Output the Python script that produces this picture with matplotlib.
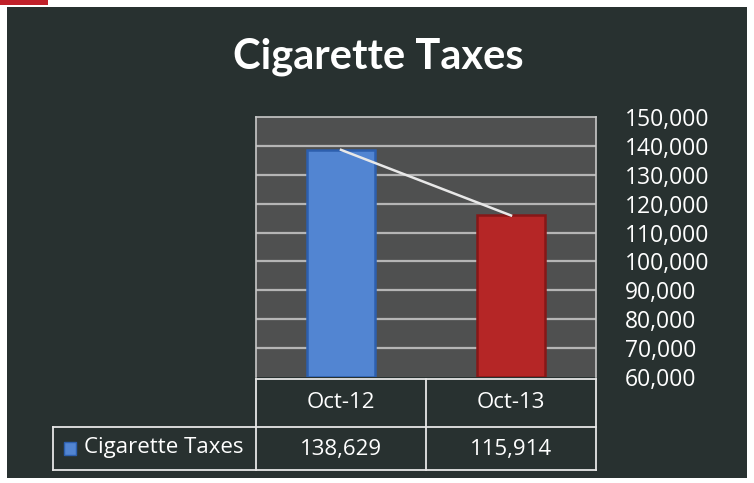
import numpy as np
import matplotlib
matplotlib.use("Agg")
import matplotlib.pyplot as plt
from matplotlib.patches import Rectangle
from matplotlib.lines import Line2D

title = "Cigarette Taxes"
series_name = "Cigarette Taxes"
months = ["Oct-12", "Oct-13"]
taxes = [138629, 115914]
bar_colors = ["#5285d2", "#b52626"]
edge_colors = ["#2d5fae", "#861717"]
y_ticks = [60000, 70000, 80000, 90000, 100000, 110000, 120000, 130000, 140000, 150000]

W, H = 754, 483
fig = plt.figure(figsize=(W / 100, H / 100), dpi=100)
fig.patch.set_facecolor("white")

def fx(px):
    return px / W

def fy(py):
    return 1 - py / H

# dark slide background + small red mark at top-left
fig.add_artist(Rectangle((fx(7), fy(478)), fx(740), (471) / H, transform=fig.transFigure,
                         facecolor="#283130", edgecolor="none", zorder=0))
fig.add_artist(Rectangle((0, fy(5)), fx(48), 5 / H, transform=fig.transFigure,
                         facecolor="#c0202a", edgecolor="none", zorder=0))

fig.text(fx(378), fy(57), title, ha="center", va="center", color="white",
         fontsize=30, fontweight="bold", family="Lato")

# plot area
ax = fig.add_axes([fx(256), fy(377), fx(596 - 256), (377 - 117) / H])
ax.set_facecolor("#4f5050")
ax.set_xlim(0, len(months))
ax.set_ylim(y_ticks[0], y_ticks[-1])
ax.set_yticks(y_ticks)
ax.set_yticklabels([f"{t:,}" for t in y_ticks])
ax.yaxis.tick_right()
ax.tick_params(axis="y", length=0, pad=21, labelsize=16.5, labelcolor="white")
for lab in ax.get_yticklabels():
    lab.set_family("Open Sans")
    lab.set_horizontalalignment("left")
ax.set_xticks([])
for t in y_ticks[1:-1]:
    ax.axhline(t, color="#b5b5b5", lw=1.6, zorder=1)
for side in ["top", "left", "right"]:
    ax.spines[side].set_color("#c8c8c8")
    ax.spines[side].set_linewidth(1.2)
ax.spines["bottom"].set_visible(False)

x = np.arange(len(months)) + 0.5
ax.bar(x, np.array(taxes) - y_ticks[0], bottom=y_ticks[0], width=0.4,
       color=bar_colors, edgecolor=edge_colors, linewidth=1.8, zorder=2)
ax.plot(x, taxes, color="#e8e8e8", lw=1.8, zorder=3)

# data table
lc = "#e6e6e6"
lw = 1.3
def hline(y, x0, x1):
    fig.add_artist(Line2D([fx(x0), fx(x1)], [fy(y), fy(y)], color=lc, lw=lw, transform=fig.transFigure))

def vline(xp, y0, y1):
    fig.add_artist(Line2D([fx(xp), fx(xp)], [fy(y0), fy(y1)], color=lc, lw=lw, transform=fig.transFigure))

cols = [256, 426, 596]
hline(379, 256, 596)
hline(427, 53, 596)
hline(470, 53, 596)
vline(53, 427, 470)
for c in cols:
    vline(c, 379, 470)

for i, m in enumerate(months):
    cx = (cols[i] + cols[i + 1]) / 2
    fig.text(fx(cx), fy(403), m, ha="center", va="center", color="white", fontsize=16, family="Open Sans")
    fig.text(fx(cx), fy(449), f"{taxes[i]:,}", ha="center", va="center", color="white", fontsize=16, family="Open Sans")

fig.add_artist(Rectangle((fx(64), fy(455)), fx(12), 13 / H, transform=fig.transFigure,
                         facecolor=bar_colors[0], edgecolor=edge_colors[0], lw=1))
fig.text(fx(84), fy(448), series_name, ha="left", va="center", color="white", fontsize=16, family="Open Sans")

fig.savefig("out.png", dpi=100, facecolor=fig.get_facecolor())
